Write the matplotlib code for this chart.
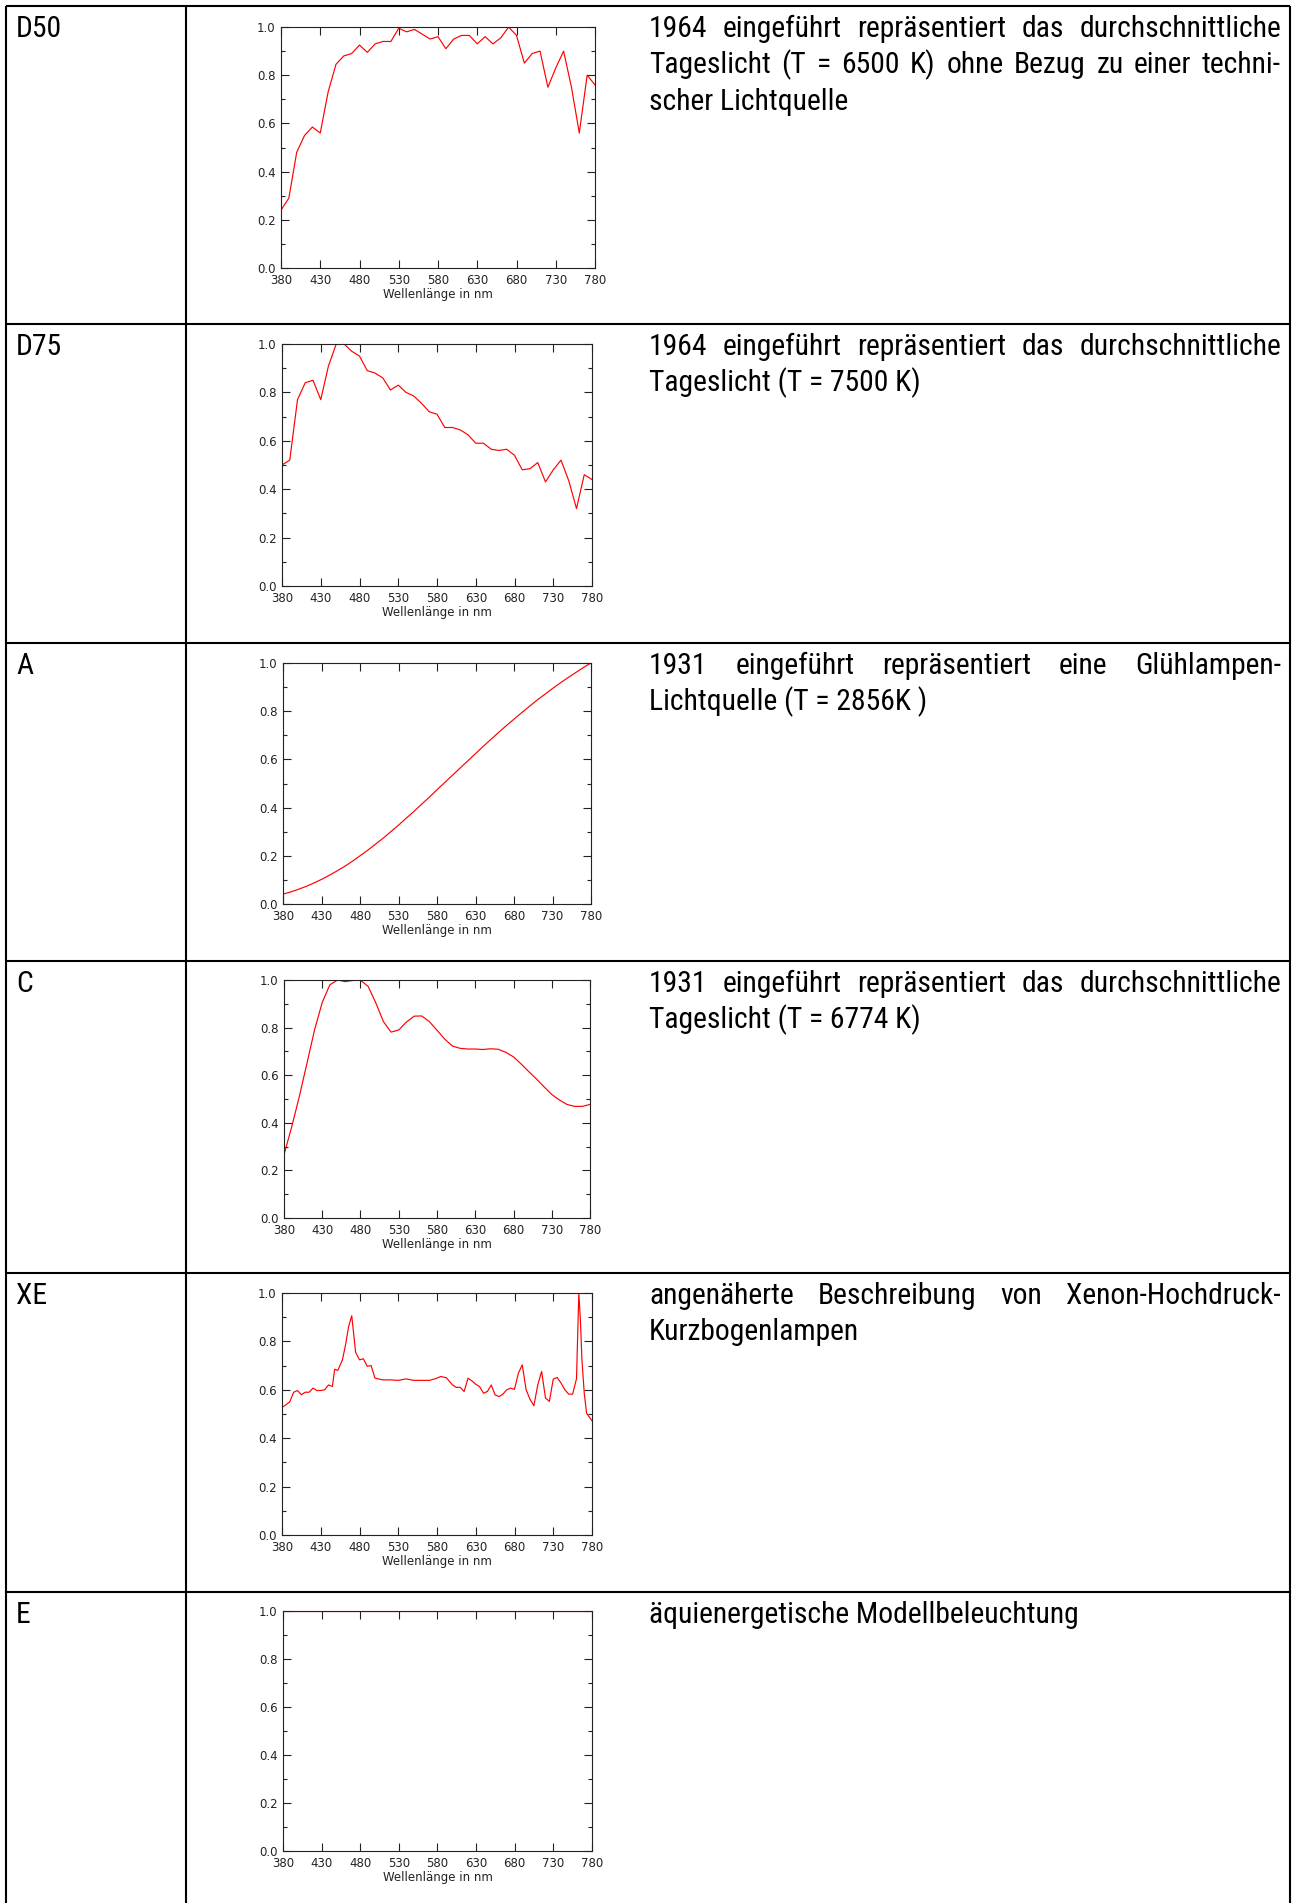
import matplotlib
matplotlib.use("Agg")
import matplotlib.pyplot as plt
from matplotlib import font_manager as fm
from matplotlib.font_manager import FontProperties
import numpy as np

W, H = 1296, 1903

# relative spectral power of the standard illuminants
wl_10 = np.arange(380, 781, 10)

d50 = [0.24, 0.29, 0.48, 0.55, 0.585, 0.56, 0.73, 0.845, 0.88, 0.89,
       0.925, 0.895, 0.93, 0.94, 0.94, 0.995, 0.98, 0.99, 0.97, 0.95,
       0.96, 0.91, 0.95, 0.965, 0.965, 0.93, 0.96, 0.93, 0.955, 1.0,
       0.965, 0.85, 0.89, 0.90, 0.75, 0.83, 0.90, 0.75, 0.56, 0.80, 0.76]

d75 = [0.50, 0.52, 0.77, 0.84, 0.85, 0.77, 0.91, 1.0, 1.0, 0.97,
       0.95, 0.89, 0.88, 0.86, 0.81, 0.83, 0.80, 0.785, 0.755, 0.72,
       0.71, 0.655, 0.655, 0.645, 0.625, 0.59, 0.59, 0.565, 0.56, 0.565,
       0.54, 0.48, 0.485, 0.51, 0.43, 0.48, 0.52, 0.435, 0.32, 0.46, 0.44]

illum_a = [0.041, 0.050, 0.061, 0.073, 0.087, 0.102, 0.119, 0.137, 0.156, 0.177,
           0.200, 0.223, 0.248, 0.273, 0.300, 0.327, 0.356, 0.384, 0.414, 0.443,
           0.474, 0.504, 0.534, 0.564, 0.594, 0.624, 0.654, 0.683, 0.712, 0.740,
           0.767, 0.794, 0.820, 0.846, 0.870, 0.894, 0.917, 0.939, 0.960, 0.981, 1.0]

illum_c = [0.266, 0.382, 0.510, 0.650, 0.791, 0.906, 0.980, 1.0, 0.993, 0.998,
           0.999, 0.973, 0.904, 0.825, 0.781, 0.790, 0.823, 0.848, 0.849, 0.825,
           0.789, 0.752, 0.723, 0.713, 0.710, 0.710, 0.708, 0.711, 0.709, 0.696,
           0.677, 0.647, 0.615, 0.584, 0.551, 0.519, 0.496, 0.477, 0.469, 0.469, 0.477]

xe_wl = [380, 385, 390, 395, 400, 405, 410, 415, 420, 425, 430, 435, 440, 445,
         448, 452, 458, 462, 466, 470, 475, 480, 485, 490, 495, 500, 510, 520,
         530, 540, 550, 560, 570, 578, 585, 592, 600, 605, 610, 615, 620, 625,
         630, 635, 640, 645, 650, 655, 660, 665, 670, 675, 680, 685, 690, 695,
         700, 705, 710, 715, 720, 725, 730, 735, 740, 745, 750, 755, 760, 763,
         765, 767, 770, 773, 780]
xe = [0.527, 0.538, 0.55, 0.59, 0.597, 0.58, 0.59, 0.59, 0.607, 0.597, 0.597,
      0.60, 0.62, 0.614, 0.685, 0.68, 0.724, 0.786, 0.862, 0.906, 0.755, 0.724,
      0.728, 0.697, 0.70, 0.648, 0.641, 0.641, 0.639, 0.645, 0.639, 0.639, 0.639,
      0.646, 0.655, 0.65, 0.62, 0.61, 0.61, 0.593, 0.648, 0.637, 0.623, 0.613,
      0.586, 0.593, 0.62, 0.579, 0.572, 0.582, 0.60, 0.607, 0.602, 0.669, 0.703,
      0.60, 0.561, 0.534, 0.62, 0.676, 0.566, 0.552, 0.644, 0.651, 0.628, 0.60,
      0.582, 0.582, 0.646, 1.0, 0.89, 0.724, 0.586, 0.503, 0.472]

illum_e = np.ones(len(wl_10))

names = ["D50", "D75", "A", "C", "XE", "E"]
curves = [(wl_10, d50), (wl_10, d75), (wl_10, illum_a), (wl_10, illum_c),
          (xe_wl, xe), (wl_10, illum_e)]
descriptions = [
    ["1964 eingeführt repräsentiert das durchschnittliche",
     "Tageslicht (T = 6500 K) ohne Bezug zu einer techni-",
     "scher Lichtquelle"],
    ["1964 eingeführt repräsentiert das durchschnittliche",
     "Tageslicht (T = 7500 K)"],
    ["1931 eingeführt repräsentiert eine Glühlampen-",
     "Lichtquelle (T = 2856K )"],
    ["1931 eingeführt repräsentiert das durchschnittliche",
     "Tageslicht (T = 6774 K)"],
    ["angenäherte Beschreibung von Xenon-Hochdruck-",
     "Kurzbogenlampen"],
    ["äquienergetische Modellbeleuchtung"],
]

# table layout in pixels
row_tops = [6, 324, 643, 961, 1273, 1592]
axes_boxes = [(281, 27, 595, 268), (282, 344, 592, 586), (283, 663, 591, 904),
              (284, 980, 590, 1218), (282, 1293, 592, 1535), (283, 1611, 592, 1851)]
x_left, x_div, x_right = 6, 186, 1290
text_x0, text_x1 = 649, 1281
BODY_SIZE = 21.3


def pick_narrow_font():
    # the original uses a narrow Arial; look for any condensed sans that is installed
    names_avail = {f.name for f in fm.fontManager.ttflist}
    for fam in ["Liberation Sans Narrow", "Arial Narrow", "Roboto Condensed",
                "Open Sans Condensed", "Noto Sans Condensed", "DejaVu Sans Condensed"]:
        if fam in names_avail:
            return FontProperties(family=fam, size=BODY_SIZE)
    for f in fm.fontManager.ttflist:
        if (f.name in ("Noto Sans", "Open Sans", "Roboto", "DejaVu Sans", "Lato", "Inter")
                and f.stretch in ("condensed", "semi-condensed")
                and f.style == "normal" and f.weight in (400, "normal", "regular", "book")):
            return FontProperties(fname=f.fname, size=BODY_SIZE)
    return None


fig = plt.figure(figsize=(W / 100, H / 100), dpi=100)

bg = fig.add_axes([0, 0, 1, 1])
bg.set_xlim(0, W)
bg.set_ylim(H, 0)
bg.axis("off")

bg.hlines(row_tops, x_left, x_right, color="black", lw=1.5)
bg.vlines([x_left, x_div, x_right], row_tops[0], H, color="black", lw=1.5)

renderer = fig.canvas.get_renderer()
font_body = pick_narrow_font()
if font_body is None:
    # no narrow face: shrink regular Liberation Sans until the longest line fits
    size = 22
    while size > 12:
        font_body = FontProperties(family="Liberation Sans", size=size)
        t = bg.text(0, 0, "Tageslicht (T = 6500 K) ohne Bezug zu einer techni-",
                    fontproperties=font_body)
        wdt = t.get_window_extent(renderer).width
        t.remove()
        if wdt < (text_x1 - text_x0) * 0.97:
            break
        size -= 0.5


def justified_line(text, y, last):
    words = text.split()
    if last or len(words) < 2:
        bg.text(text_x0, y, text, fontproperties=font_body, va="baseline", ha="left")
        return
    objs, widths = [], []
    for w in words:
        t = bg.text(0, y, w, fontproperties=font_body, va="baseline", ha="left")
        objs.append(t)
        widths.append(t.get_window_extent(renderer).width)
    gap = (text_x1 - text_x0 - sum(widths)) / (len(words) - 1)
    x = text_x0
    for t, w in zip(objs, widths):
        t.set_x(x)
        x += w + gap


for top, name, lines in zip(row_tops, names, descriptions):
    bg.text(16, top + 31, name, fontproperties=font_body, va="baseline", ha="left")
    for i, line in enumerate(lines):
        justified_line(line, top + 31 + i * 36.4, i == len(lines) - 1)

for (l, t, r, b), (x, y) in zip(axes_boxes, curves):
    ax = fig.add_axes([l / W, 1 - b / H, (r - l) / W, (b - t) / H])
    ax.plot(x, y, color="#ff0000", lw=0.85)
    ax.set_xlim(380, 780)
    ax.set_ylim(0, 1.0)
    ax.set_xticks(np.arange(380, 781, 50))
    ax.set_yticks(np.arange(0, 1.01, 0.2))
    ax.set_yticks(np.arange(0.1, 1.0, 0.2), minor=True)
    ax.set_yticklabels([f"{v:.1f}" for v in np.arange(0, 1.01, 0.2)])
    ax.tick_params(which="both", direction="in", top=True, right=True,
                   labelsize=8.5, labelcolor="#222222", color="#222222", width=0.8)
    ax.tick_params(which="major", length=6, pad=4)
    ax.tick_params(which="minor", length=3)
    ax.set_xlabel("Wellenlänge in nm", fontsize=8.5, color="#222222", labelpad=1)
    for s in ax.spines.values():
        s.set_linewidth(0.8)
        s.set_color("#222222")

fig.savefig("out.png", dpi=100)
